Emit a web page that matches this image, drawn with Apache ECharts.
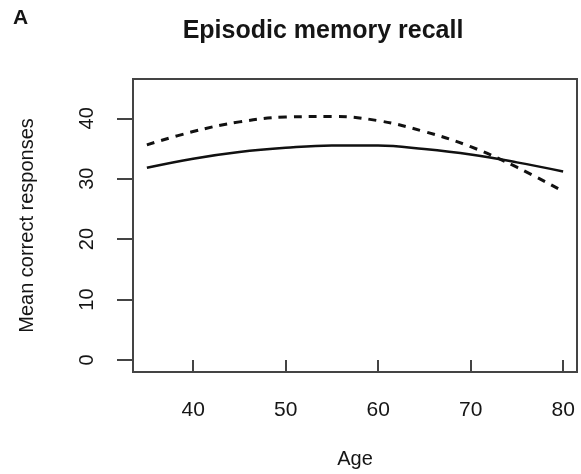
<!DOCTYPE html>
<html>
<head>
<meta charset="utf-8">
<script src="https://cdn.jsdelivr.net/npm/echarts@6/dist/echarts.min.js"></script>
<style>
  html, body { margin: 0; padding: 0; background: #fff; }
  #chart { width: 581px; height: 474px; }
</style>
</head>
<body>
<div id="chart"></div>
<script>
const ages = [35, 40, 45, 50, 55, 60, 65, 70, 75, 80]
// solid curve
const solidValues = [31.8, 33.3, 34.4, 35.1, 35.5, 35.5, 34.9, 34.0, 32.7, 31.2]
// dashed curve
const dashedValues = [35.6, 37.8, 39.4, 40.2, 40.3, 39.6, 37.8, 35.3, 31.9, 27.9]
const xTicks = [40, 50, 60, 70, 80]
const yTicks = [0, 10, 20, 30, 40]

const font = 'Liberation Sans, Arial, sans-serif'
const ink = '#151515'

const chart = echarts.init(document.getElementById('chart'))

const toPairs = vals => ages.map((a, i) => [a, vals[i]])

chart.setOption({
  animation: false,
  backgroundColor: '#fff',
  title: [
    {
      text: 'Episodic memory recall',
      left: 318,
      top: 14,
      textAlign: 'center',
      textStyle: { fontFamily: font, fontWeight: 'bold', fontSize: 25, color: ink },
    },
    {
      text: 'A',
      left: 8,
      top: 3,
      textStyle: { fontFamily: font, fontWeight: 'bold', fontSize: 21, color: ink },
    },
  ],
  grid: {
    left: 133,
    top: 79,
    right: 4,
    bottom: 100,
    show: true,
    borderColor: '#444',
    borderWidth: 2,
  },
  xAxis: {
    type: 'value',
    min: 33.5,
    max: 81.5,
    name: 'Age',
    nameLocation: 'middle',
    nameGap: 77,
    nameTextStyle: { fontFamily: font, fontSize: 20, color: ink },
    axisLine: { show: false },
    splitLine: { show: false },
    axisTick: {
      show: true,
      length: 12,
      customValues: xTicks,
      lineStyle: { color: '#444', width: 2 },
    },
    axisLabel: {
      customValues: xTicks,
      margin: 28,
      fontFamily: font,
      fontSize: 21,
      color: ink,
    },
  },
  yAxis: {
    type: 'value',
    min: -2,
    max: 46.5,
    name: 'Mean correct responses',
    nameLocation: 'middle',
    nameRotate: 90,
    nameGap: 96,
    nameTextStyle: { fontFamily: font, fontSize: 20, color: ink },
    axisLine: { show: false },
    splitLine: { show: false },
    axisTick: {
      show: true,
      length: 16,
      customValues: yTicks,
      lineStyle: { color: '#444', width: 2 },
    },
    axisLabel: {
      customValues: yTicks,
      rotate: 90,
      margin: 36,
      fontFamily: font,
      fontSize: 20,
      color: ink,
    },
  },
  series: [
    {
      type: 'line',
      data: toPairs(solidValues),
      smooth: 0.4,
      showSymbol: false,
      lineStyle: { color: '#111', width: 2.5 },
    },
    {
      type: 'line',
      data: toPairs(dashedValues),
      smooth: 0.4,
      showSymbol: false,
      lineStyle: { color: '#111', width: 3, type: [8, 7] },
    },
  ],
})
</script>
</body>
</html>
